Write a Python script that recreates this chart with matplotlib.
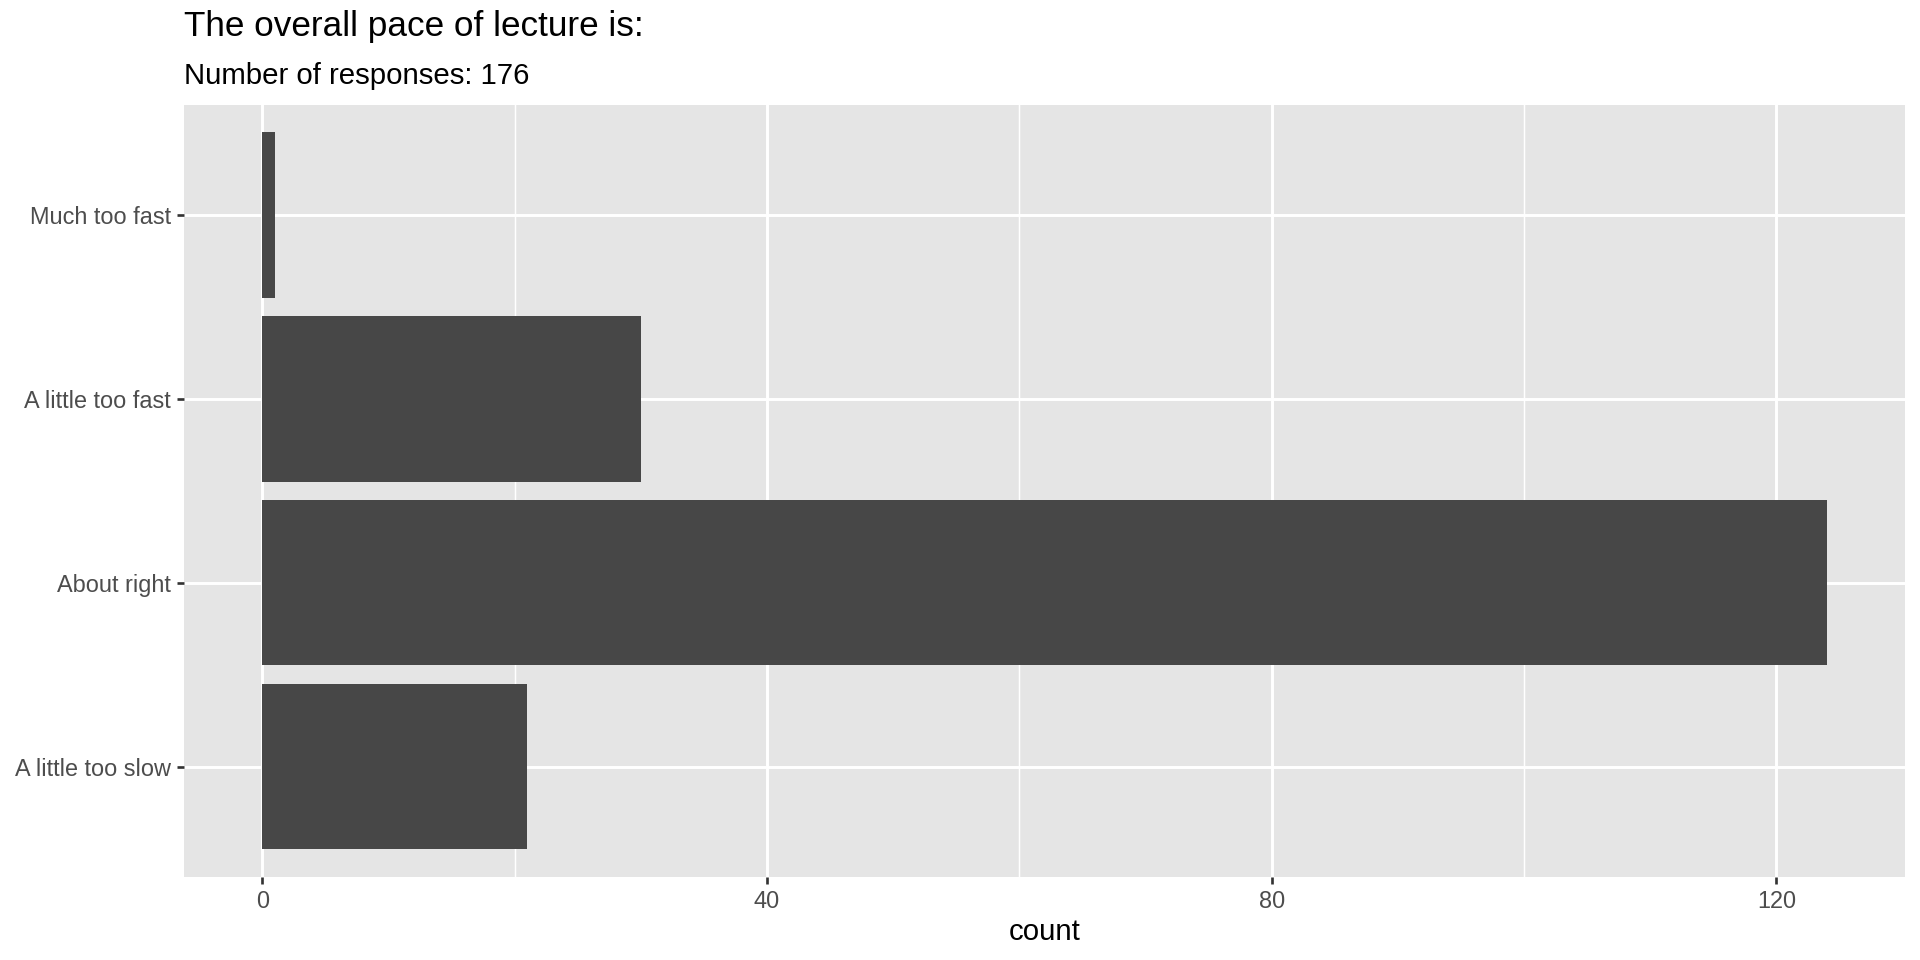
#!/usr/bin/python3
import matplotlib
matplotlib.use('Agg')
import matplotlib.pyplot as plt

# Data
categories = ['A little too slow', 'About right', 'A little too fast', 'Much too fast']
counts = [21, 124, 30, 1]
x_ticks = [0, 40, 80, 120]
x_minor = [20, 60, 100]

plt.rcParams['font.family'] = ['Liberation Sans', 'DejaVu Sans']

fig = plt.figure(figsize=(10, 5), dpi=192)
ax = fig.add_axes([0.0958, 0.0865, 0.8964, 0.8045])

# ggplot-like panel
ax.set_facecolor('#E5E5E5')
for s in ax.spines.values():
    s.set_visible(False)

pos = list(range(1, len(categories) + 1))
ax.barh(pos, counts, height=0.9, color='#474747', edgecolor='none', zorder=3)

ax.set_xlim(-0.05 * max(counts), 1.05 * max(counts))
ax.set_ylim(0.4, len(categories) + 0.6)

ax.set_xticks(x_ticks)
ax.set_xticks(x_minor, minor=True)
ax.set_yticks(pos)
ax.set_yticklabels(categories)

ax.grid(which='major', color='white', linewidth=1.1, zorder=1)
ax.grid(which='minor', axis='x', color='white', linewidth=0.55, zorder=1)
ax.tick_params(which='major', length=2.75, width=1.0, color='#333333',
               labelcolor='#4D4D4D', labelsize=8.8, pad=2.2)
ax.tick_params(which='minor', length=0)

ax.set_xlabel('count', fontsize=11, color='black', labelpad=2)

fig.text(0.0958, 0.972, 'The overall pace of lecture is:', fontsize=13.2,
         va='center', ha='left', color='black')
fig.text(0.0958, 0.921, 'Number of responses: 176', fontsize=11,
         va='center', ha='left', color='black')

fig.savefig('out.png', dpi=192)
